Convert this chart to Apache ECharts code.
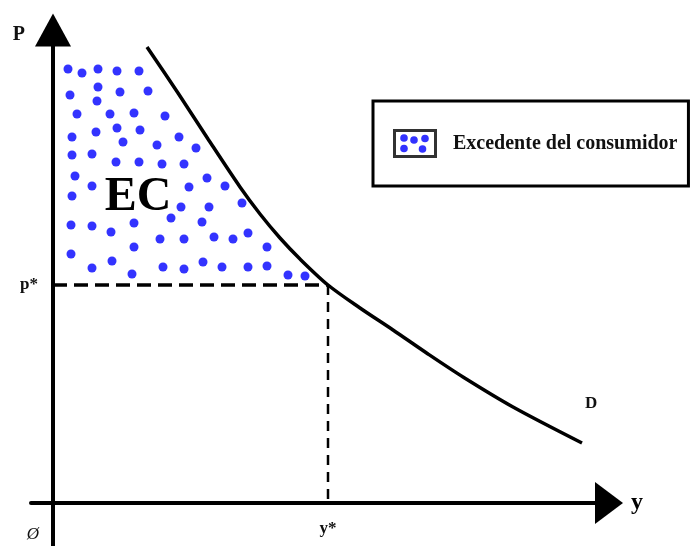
<!DOCTYPE html>
<html>
<head>
<meta charset="utf-8">
<script src="https://cdn.jsdelivr.net/npm/echarts@6/dist/echarts.min.js"></script>
<style>
    html, body { margin: 0; padding: 0; background: #fff; }
    #chart { width: 696px; height: 546px; }
</style>
</head>
<body>
<div id="chart"></div>
<script>
    // demand curve D (units: quantity y, price P)
    var curveX = [94, 125, 155, 187, 207, 227, 247, 275, 307, 340, 375, 410, 460, 529];
    var curveY = [456, 410, 364, 316, 289, 265, 244, 218, 195, 173, 149, 126, 96, 60];

    // equilibrium
    var yStar = 275;
    var pStar = 218;

    // dots of the consumer surplus area
    var dotX = [15, 29, 45, 64, 86, 17, 45, 44, 67, 95, 24, 57, 81, 112, 19, 43, 64, 87, 70, 126,
        19, 39, 63, 86, 104, 109, 143, 131, 22, 39, 154, 136, 172, 19, 128, 156, 189,
        18, 39, 58, 81, 118, 149, 107, 131, 161, 180, 195, 18, 81, 214,
        39, 59, 79, 110, 131, 150, 169, 195, 214, 235, 252];
    var dotY = [434, 430, 434, 432, 432, 408, 416, 402, 411, 412, 389, 389, 390, 387, 366, 371, 375, 373, 361, 366,
        348, 349, 341, 341, 358, 339, 355, 339, 327, 317, 325, 316, 317, 307, 296, 296, 300,
        278, 277, 271, 280, 285, 281, 264, 264, 266, 264, 270, 249, 256, 256,
        235, 242, 229, 236, 234, 241, 236, 236, 237, 228, 227];

    var ecPos = [85, 305];
    var originX = -20;

    var serif = '"Liberation Serif", "DejaVu Serif", serif';
    var blue = '#0000ff';

    var curveData = curveX.map(function (x, i) { return [x, curveY[i]]; });
    var dotData = dotX.map(function (x, i) { return [x, dotY[i]]; });

    // little framed dots for the legend icon
    var iconSvg = '<svg xmlns="http://www.w3.org/2000/svg" width="44" height="29" viewBox="0 0 44 29">' +
        '<rect x="1.5" y="1.5" width="41" height="26" fill="#fff" stroke="#000" stroke-width="3"/>' +
        '<circle cx="11" cy="9" r="3.8" fill="' + blue + '"/>' +
        '<circle cx="11" cy="19.5" r="3.8" fill="' + blue + '"/>' +
        '<circle cx="21" cy="11" r="3.8" fill="' + blue + '"/>' +
        '<circle cx="32" cy="9.5" r="3.8" fill="' + blue + '"/>' +
        '<circle cx="29.5" cy="20" r="3.8" fill="' + blue + '"/>' +
        '</svg>';
    var iconUrl = 'image://data:image/svg+xml;charset=utf-8,' + encodeURIComponent(iconSvg);

    var chart = echarts.init(document.getElementById('chart'));
    var option = {
        animation: false,
        backgroundColor: '#fff',
        grid: {
            left: 31,
            right: 87,
            top: 30,
            bottom: 0,
            outerBoundsMode: 'none'
        },
        legend: {
            left: 373,
            top: 101,
            padding: [28, 11, 28, 20],
            borderColor: '#000',
            borderWidth: 3,
            itemWidth: 44,
            itemHeight: 29,
            selectedMode: false,
            data: [{ name: 'Excedente del consumidor', icon: iconUrl }],
            textStyle: {
                fontFamily: serif,
                fontWeight: 'bold',
                fontSize: 20,
                color: '#111',
                padding: [0, 0, 0, 11]
            }
        },
        xAxis: {
            type: 'value',
            min: -22,
            max: 556,
            name: 'y',
            nameLocation: 'end',
            nameGap: 22,
            nameTextStyle: {
                fontFamily: serif,
                fontWeight: 'bold',
                fontSize: 24,
                color: '#000',
                verticalAlign: 'middle',
                padding: [0, 0, 10, 0]
            },
            axisLine: {
                onZero: true,
                symbol: ['none', 'triangle'],
                symbolSize: [42, 28],
                lineStyle: { color: '#000', width: 4 }
            },
            axisTick: { show: false },
            splitLine: { show: false },
            axisLabel: {
                // labels sit at the grid edge, so pull them back up under the axis
                customValues: [originX, yStar],
                margin: -26,
                formatter: function (v) {
                    if (v === yStar) return '{s|y*}';
                    return '{o|Ø}';
                },
                rich: {
                    s: { fontFamily: serif, fontWeight: 'bold', fontSize: 17, color: '#111' },
                    o: { fontFamily: serif, fontStyle: 'italic', fontSize: 17, color: '#111', padding: [6, 0, 0, 0] }
                }
            }
        },
        yAxis: {
            type: 'value',
            min: -43,
            max: 473,
            name: 'P',
            nameLocation: 'end',
            nameGap: -5,
            nameTextStyle: {
                fontFamily: serif,
                fontWeight: 'bold',
                fontSize: 20,
                color: '#111',
                align: 'right',
                verticalAlign: 'middle',
                padding: [0, 28, 0, 0]
            },
            axisLine: {
                onZero: true,
                symbol: ['none', 'triangle'],
                symbolSize: [36, 33],
                lineStyle: { color: '#000', width: 4 }
            },
            axisTick: { show: false },
            splitLine: { show: false },
            axisLabel: {
                customValues: [pStar],
                margin: -7,
                fontFamily: serif,
                fontWeight: 'bold',
                fontSize: 17,
                color: '#111',
                formatter: function () { return 'p*'; }
            }
        },
        series: [
            {
                name: 'Excedente del consumidor',
                type: 'scatter',
                symbol: 'circle',
                symbolSize: 9,
                itemStyle: { color: blue },
                data: dotData,
                markPoint: {
                    symbolSize: 0,
                    data: [{ coord: ecPos, value: 'EC' }],
                    label: {
                        show: true,
                        formatter: 'EC',
                        fontFamily: serif,
                        fontWeight: 'bold',
                        fontSize: 48,
                        color: '#000'
                    }
                },
                z: 2
            },
            {
                name: 'pline',
                type: 'line',
                symbol: 'none',
                lineStyle: { color: '#000', width: 3.5, type: [14, 7] },
                data: [[0, pStar], [yStar, pStar]],
                z: 3
            },
            {
                name: 'yline',
                type: 'line',
                symbol: 'none',
                lineStyle: { color: '#000', width: 2.5, type: [10, 7] },
                data: [[yStar, pStar], [yStar, 0]],
                z: 3
            },
            {
                name: 'D',
                type: 'line',
                symbol: 'none',
                smooth: 0.3,
                lineStyle: { color: '#000', width: 3.5 },
                data: curveData,
                endLabel: {
                    show: true,
                    formatter: 'D',
                    distance: 3,
                    offset: [0, -39],
                    fontFamily: serif,
                    fontWeight: 'bold',
                    fontSize: 17,
                    color: '#111'
                },
                z: 4
            }
        ]
    };
    chart.setOption(option);
</script>
</body>
</html>
